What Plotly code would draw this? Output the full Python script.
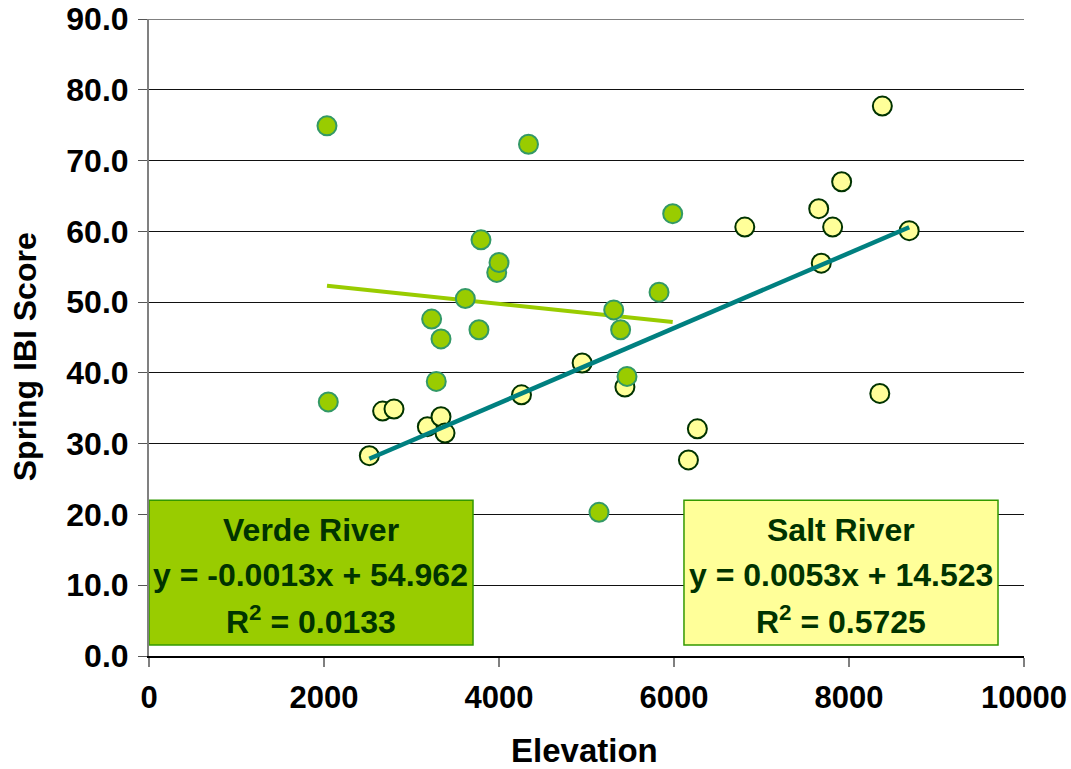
import plotly.graph_objects as go

# ---- data ----
verde_x = [2034, 2049, 3230, 3337, 3283, 3615, 3771, 3794, 3974, 4000, 4337, 5311, 5390, 5463, 5143, 5829, 5985]
verde_y = [74.9, 35.9, 47.6, 44.8, 38.8, 50.5, 46.1, 58.8, 54.2, 55.6, 72.3, 48.9, 46.1, 39.5, 20.3, 51.4, 62.5]

salt_x = [2518, 2670, 2800, 3181, 3337, 3383, 4257, 4950, 5439, 6165, 6267, 6809, 7654, 7683, 7813, 7916, 8352, 8381, 8688]
salt_y = [28.3, 34.6, 34.9, 32.4, 33.8, 31.5, 36.9, 41.4, 38.0, 27.7, 32.1, 60.6, 63.2, 55.5, 60.6, 67.0, 37.1, 77.7, 60.1]

verde_slope, verde_intercept, verde_r2 = -0.0013, 54.962, 0.0133
salt_slope, salt_intercept, salt_r2 = 0.0053, 14.523, 0.5725

x_ticks = [0, 2000, 4000, 6000, 8000, 10000]
y_ticks = [0, 10, 20, 30, 40, 50, 60, 70, 80, 90]

x_title = "Elevation"
y_title = "Spring IBI Score"

FONT = "Arial, 'Liberation Sans', sans-serif"
TXT = "#003300"

def trend(xs, m, b):
    x0, x1 = min(xs), max(xs)
    return [x0, x1], [m * x0 + b, m * x1 + b]

fig = go.Figure()

fig.add_trace(go.Scatter(
    x=salt_x, y=salt_y, mode="markers", name="Salt River",
    marker=dict(size=19, color="#FFFF99", line=dict(color="#003300", width=2)),
))
tx, ty = trend(salt_x, salt_slope, salt_intercept)
fig.add_trace(go.Scatter(x=tx, y=ty, mode="lines", line=dict(color="#008080", width=4.5),
                         showlegend=False))
tx, ty = trend(verde_x, verde_slope, verde_intercept)
fig.add_trace(go.Scatter(x=tx, y=ty, mode="lines", line=dict(color="#99CC00", width=4),
                         showlegend=False))
fig.add_trace(go.Scatter(
    x=verde_x, y=verde_y, mode="markers", name="Verde River",
    marker=dict(size=19, color="#99CC00", line=dict(color="#339966", width=2)),
))

# top gridline (plotly omits the gridline at the range edge)
fig.add_shape(type="line", xref="paper", yref="y", x0=0, x1=1, y0=y_ticks[-1], y1=y_ticks[-1],
              line=dict(color="#808080", width=2), layer="below")

# text boxes
fig.add_shape(type="rect", xref="x", yref="y", x0=0, x1=3703, y0=1.55, y1=22.0,
              fillcolor="#99CC00", line=dict(color="#339900", width=1.5), layer="above")
fig.add_shape(type="rect", xref="x", yref="y", x0=6114, x1=9703, y0=1.55, y1=22.0,
              fillcolor="#FFFF99", line=dict(color="#339900", width=1.5), layer="above")

def box_text(xc, lines):
    ys = [17.8, 11.5, 5.1]
    for txt, yy in zip(lines, ys):
        fig.add_annotation(x=xc, y=yy, xref="x", yref="y", text=txt, showarrow=False,
                           font=dict(family=FONT, size=32, color=TXT),
                           xanchor="center", yanchor="middle")

box_text(1851, ["<b>Verde River</b>",
                f"<b>y = {verde_slope:.4f}x + {verde_intercept:.3f}</b>",
                f"<b>R<sup>2</sup> = {verde_r2:.4f}</b>"])
box_text(7908, ["<b>Salt River</b>",
                f"<b>y = {salt_slope:.4f}x + {salt_intercept:.3f}</b>",
                f"<b>R<sup>2</sup> = {salt_r2:.4f}</b>"])

# axis titles
fig.add_annotation(xref="paper", yref="paper", x=0.498, y=-0.1476, text=f"<b>{x_title}</b>",
                   showarrow=False, xanchor="center", yanchor="middle",
                   font=dict(family=FONT, size=33, color="black"))
fig.add_annotation(xref="paper", yref="paper", x=-0.1417, y=0.469, text=f"<b>{y_title}</b>",
                   showarrow=False, xanchor="center", yanchor="middle", textangle=-90,
                   font=dict(family=FONT, size=32, color="black"))

fig.update_layout(
    width=1071, height=769,
    margin=dict(l=149, r=47, t=19, b=113, autoexpand=False),
    paper_bgcolor="white", plot_bgcolor="white",
    showlegend=False,
    font=dict(family=FONT, color="black"),
    xaxis=dict(
        range=[0, 10000], tickvals=x_ticks, ticktext=[f"<b>{v}</b>" for v in x_ticks],
        showgrid=False, zeroline=False, automargin=False,
        showline=True, linecolor="black", linewidth=1.5,
        ticks="outside", ticklen=9, tickcolor="#808080", tickwidth=1.5,
        tickfont=dict(family=FONT, size=31, color="black"),
        ticklabelstandoff=4, ticklabeloverflow="allow",
    ),
    yaxis=dict(
        range=[0, 90], tickvals=y_ticks, ticktext=[f"<b>{v:.1f}</b>" for v in y_ticks],
        showgrid=True, gridcolor="#111111", gridwidth=1,
        zeroline=False, automargin=False,
        showline=True, linecolor="#808080", linewidth=2,
        ticks="outside", ticklen=9, tickcolor="#555555", tickwidth=1,
        tickfont=dict(family=FONT, size=32, color="black"),
        ticklabelstandoff=3, ticklabeloverflow="allow",
    ),
)

fig.write_html("out.html",
               config={"displayModeBar": False},
               post_script="document.body.style.margin='0';document.body.style.overflow='hidden';")
